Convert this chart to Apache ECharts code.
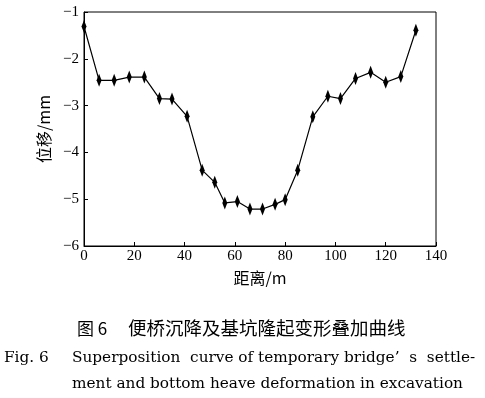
<!DOCTYPE html>
<html>
<head>
<meta charset="utf-8">
<script src="https://cdn.jsdelivr.net/npm/echarts@6/dist/echarts.min.js"></script>
<style>
  html, body { margin: 0; padding: 0; background: #fff; }
  #main { width: 485px; height: 398px; }
</style>
</head>
<body>
<div id="main"></div>
<script>
  // distance along the bridge (m) and displacement (mm)
  var distance = [0, 6, 12, 18, 24, 30, 35, 41, 47, 52, 56, 61, 66, 71, 76, 80, 85, 91, 97, 102, 108, 114, 120, 126, 132];
  var displacement = [-1.31, -2.46, -2.46, -2.39, -2.39, -2.85, -2.86, -3.23, -4.38, -4.64, -5.08, -5.05, -5.21, -5.21, -5.11, -5.01, -4.38, -3.24, -2.80, -2.85, -2.42, -2.29, -2.50, -2.38, -1.39];
  var xTicks = [0, 20, 40, 60, 80, 100, 120, 140];
  var yTicks = [-6, -5, -4, -3, -2, -1];

  var pts = [];
  for (var i = 0; i < distance.length; i++) {
    pts.push([distance[i], displacement[i]]);
  }

  var serif = '"Liberation Serif", "Times New Roman", serif';
  var wide = '"DejaVu Serif", serif';
  var cjk = '"Noto Sans CJK SC", sans-serif';

  var myChart = echarts.init(document.getElementById('main'));
  var option = {
    animation: false,
    backgroundColor: '#fff',
    grid: { left: 84, top: 12, right: 49, bottom: 152, show: true, borderColor: '#000', borderWidth: 1 },
    xAxis: {
      type: 'value',
      min: xTicks[0],
      max: xTicks[xTicks.length - 1],
      interval: 20,
      axisLine: { show: true, lineStyle: { color: '#000', width: 1 } },
      axisTick: { show: true, inside: true, length: 4, lineStyle: { color: '#000' } },
      splitLine: { show: false },
      axisLabel: { color: '#000', fontFamily: serif, fontSize: 15, margin: 3 },
      name: '距离/m',
      nameLocation: 'middle',
      nameGap: 24,
      nameTextStyle: { color: '#000', fontFamily: cjk, fontSize: 16 }
    },
    yAxis: {
      type: 'value',
      min: yTicks[0],
      max: yTicks[yTicks.length - 1],
      interval: 1,
      axisLine: { show: true, lineStyle: { color: '#000', width: 1 } },
      axisTick: { show: true, inside: true, length: 4, lineStyle: { color: '#000' } },
      splitLine: { show: false },
      axisLabel: {
        color: '#000', fontFamily: serif, fontSize: 15, margin: 5,
        formatter: function (v) { return String(v).replace('-', '\u2212'); }
      },
      name: '位移/mm',
      nameLocation: 'middle',
      nameGap: 30,
      nameRotate: 90,
      nameTextStyle: { color: '#000', fontFamily: cjk, fontSize: 16 }
    },
    series: [
      {
        type: 'line',
        data: pts,
        symbol: 'diamond',
        symbolSize: [5, 13],
        showAllSymbol: true,
        lineStyle: { color: '#000', width: 1.2 },
        itemStyle: { color: '#000', borderWidth: 0 }
      }
    ],
    graphic: [
      {
        type: 'text', left: 77, top: 320,
        style: { text: '图 6', fill: '#000', font: '17px ' + cjk }
      },
      {
        type: 'text', left: 128, top: 319,
        style: { text: '便桥沉降及基坑隆起变形叠加曲线', fill: '#000', font: '18.5px ' + cjk }
      },
      {
        type: 'text', left: 4, top: 351,
        style: { text: 'Fig. 6', fill: '#000', font: '15.3px ' + wide }
      },
      {
        type: 'text', left: 72, top: 351,
        style: { text: 'Superposition  curve of temporary bridge\u2019  s  settle-', fill: '#000', font: '15.3px ' + wide }
      },
      {
        type: 'text', left: 72, top: 377,
        style: { text: 'ment and bottom heave deformation in excavation', fill: '#000', font: '15.3px ' + wide }
      }
    ]
  };
  myChart.setOption(option);
</script>
</body>
</html>
